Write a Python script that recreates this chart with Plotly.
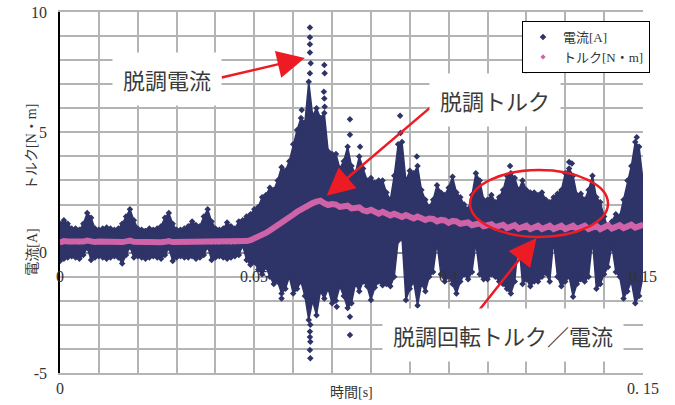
import plotly.graph_objects as go

# ---------------- data ----------------
time_step = 0.001  # s, sample spacing of the envelope readings

# upper extreme of the current cloud at each time step [A]
current_hi = [
    1.2, 1.35, 1.2, 1.0, 1.0, 0.95, 1.2, 1.65, 1.45, 1.0,
    0.95, 1.0, 1.05, 1.0, 0.95, 1.0, 1.2, 1.5, 1.8, 1.35,
    1.0, 0.95, 0.9, 1.0, 0.95, 1.0, 1.1, 1.45, 1.65, 1.2,
    0.95, 0.95, 1.0, 1.1, 1.3, 1.15, 1.1, 1.5, 1.8, 1.3,
    1.0, 0.95, 1.0, 1.25, 1.1, 1.0, 1.3, 1.35, 1.5, 1.6,
    1.8, 1.9, 2.3, 2.4, 2.7, 2.6, 3.0, 3.55, 3.4, 3.8,
    4.5, 5.1, 5.6, 5.4, 7.1, 5.7, 6.0, 5.6, 5.8, 4.2,
    4.1, 4.1, 3.5, 3.8, 4.4, 3.6, 3.3, 4.0, 3.5, 3.0,
    3.1, 2.9, 3.0, 3.0, 2.5, 2.2, 3.2, 4.5, 4.6, 3.0,
    3.4, 3.3, 3.6, 2.6, 2.2, 1.9, 2.2, 2.8, 2.5, 2.4,
    2.7, 3.15, 2.5, 2.3, 2.0, 1.8, 2.4, 3.3, 3.0, 2.2,
    2.2, 2.4, 2.1, 2.3, 2.6, 3.2, 3.3, 3.1, 2.6, 3.0,
    2.6, 2.5, 2.5, 2.4, 2.5, 2.2, 2.1, 2.3, 2.45, 2.6,
    3.3, 3.5, 3.2, 2.4, 2.45, 2.2, 2.6, 3.2, 2.3, 2.1,
    1.5, 1.0, 1.3, 1.6, 1.5, 2.2, 3.0, 3.6, 4.6, 4.4,
    3.0,
]

# lower extreme of the current cloud at each time step [A]
current_lo = [
    -0.35, -0.25, -0.2, -0.15, -0.2, -0.25, -0.1, 0.2, -0.3, -0.2,
    -0.15, -0.2, -0.25, -0.2, -0.15, -0.2, -0.45, -0.1, 0.25, -0.2,
    -0.15, -0.2, -0.25, -0.2, -0.15, -0.2, -0.25, -0.1, 0.2, -0.35,
    -0.2, -0.15, -0.2, -0.2, -0.15, -0.25, -0.2, -0.1, 0.25, -0.3,
    -0.2, -0.15, -0.2, -0.25, -0.2, -0.15, -0.1, 0.3, -0.3, -0.5,
    -0.4, -0.7, -0.9, -0.6, -1.0, -1.3, -1.2, -1.7, -1.5, -1.0,
    -1.7, -1.5, -1.2, -1.8, -2.8, -2.0, -2.6, -1.6, -1.9, -1.5,
    -2.1, -2.0, -1.4, -1.8, -2.3, -2.1, -1.3, -1.6, -1.2, -1.4,
    -1.97, -1.45, -1.2, -1.35, -1.3, -1.4, -1.0, 0.5, 0.6, -1.97,
    -1.5, -1.2, -2.2, -1.3, -1.6, -1.0, -0.8, 0.4, -0.9, -1.2,
    -1.0, -1.3, -1.7, -1.2, -0.9, -1.1, -0.8, 0.4, -0.9, -1.1,
    -1.1, -0.9, -1.0, -1.2, -1.3, -1.5, -1.7, -1.2, 0.5, -1.3,
    -1.1, -1.4, -1.2, -1.2, -1.0, -0.85, -1.2, 0.5, -1.0, -1.4,
    -1.2, -1.0, -1.83, -1.3, -1.1, -1.2, -1.0, 0.5, -1.5, -1.3,
    -0.9, -0.6, 0.3, -0.8, -1.0, -1.9, -1.6, -1.2, -2.1, -1.8,
    -1.0,
]

# isolated current dots of the spikes [s], [A]
outlier_t = [0.0622, 0.0643, 0.0643, 0.0643, 0.0643, 0.0645, 0.0643, 0.0643,
             0.0644, 0.0643, 0.0644, 0.0643, 0.0644, 0.0680, 0.0681, 0.0679,
             0.0680, 0.0681, 0.0746, 0.0746, 0.0772, 0.0875, 0.0876, 0.0918,
             0.1158, 0.1310, 0.1317, 0.1484, 0.0712, 0.0746, 0.0746, 0.0922,
             0.0570]
outlier_v = [5.93, 9.36, 8.95, 8.66, 8.32, 7.87, 7.45, -3.28,
             -3.7, -4.04, -4.39, -3.5, -3.0, 7.8, 7.45, 6.69,
             6.41, 6.06, 5.54, 4.9, 4.4, 5.69, 4.97, 4.0,
             3.6, 3.77, 3.7, 4.8, -2.25, -2.66, -3.42, -2.5,
             -1.9]

# torque [N·m] at each time step
torque = [
    0.42, 0.48, 0.46, 0.45, 0.47, 0.44, 0.46, 0.50, 0.45, 0.44,
    0.46, 0.45, 0.47, 0.44, 0.45, 0.46, 0.44, 0.47, 0.50, 0.45,
    0.44, 0.45, 0.46, 0.44, 0.45, 0.44, 0.43, 0.45, 0.48, 0.44,
    0.44, 0.45, 0.44, 0.43, 0.44, 0.45, 0.44, 0.46, 0.48, 0.44,
    0.44, 0.43, 0.45, 0.44, 0.43, 0.44, 0.45, 0.46, 0.48, 0.52,
    0.58, 0.66, 0.74, 0.82, 0.92, 1.02, 1.12, 1.25, 1.36, 1.48,
    1.58, 1.70, 1.80, 1.90, 1.98, 2.06, 2.12, 2.16, 2.05, 1.98,
    2.02, 2.00, 1.90, 1.94, 1.95, 1.84, 1.86, 1.88, 1.76, 1.72,
    1.78, 1.68, 1.62, 1.70, 1.62, 1.55, 1.62, 1.56, 1.48, 1.56,
    1.50, 1.42, 1.50, 1.46, 1.36, 1.42, 1.40, 1.30, 1.36, 1.34,
    1.24, 1.32, 1.30, 1.20, 1.26, 1.26, 1.14, 1.20, 1.22, 1.10,
    1.16, 1.18, 1.06, 1.12, 1.16, 1.02, 1.08, 1.14, 1.00, 1.06,
    1.12, 0.98, 1.04, 1.12, 0.98, 1.02, 1.12, 0.98, 1.02, 1.12,
    0.98, 1.02, 1.12, 0.98, 1.02, 1.12, 0.98, 1.02, 1.12, 0.98,
    1.04, 1.14, 1.00, 1.04, 1.14, 1.02, 1.06, 1.16, 1.04, 1.08,
    1.16,
]

x_tick_vals = [round(i * 0.01, 2) for i in range(16)]
x_tick_text = ["0"] + [""] * 14 + ["0. 15"]
y_tick_vals = list(range(-5, 11))
y_tick_text = ["-5", "", "", "", "", "0", "", "", "", "", "5", "", "", "", "", "10"]
axis_cross_labels = ["0", "0.05", "0.1", "0.15"]
axis_cross_vals = [0, 0.05, 0.1, 0.15]

# ---------------- build ----------------
NAVY = "#2E3368"
PINK = "#CF63A8"
RED = "#ED1C24"
SERIF = "'Liberation Serif', 'DejaVu Serif', serif"
MIXED = "'Liberation Serif', 'Noto Sans CJK JP', serif"
JP = "'Noto Sans CJK JP', sans-serif"
TXT = "#333333"

times = [round(k * time_step, 4) for k in range(len(current_hi))]

fig = go.Figure()
# dense core of the current cloud: area between the lower and upper extremes
fig.add_trace(go.Scatter(x=times + times[::-1], y=current_hi + current_lo[::-1],
                         mode="lines", fill="toself", fillcolor=NAVY,
                         line=dict(color=NAVY, width=1.5),
                         showlegend=False, hoverinfo="skip"))
# current sample dots (edges of the cloud and isolated spike points)
fig.add_trace(go.Scatter(x=times + times + outlier_t, y=current_hi + current_lo + outlier_v,
                         mode="markers", name="電流[A]",
                         marker=dict(color=NAVY, size=5, symbol="diamond")))
fig.add_trace(go.Scatter(x=times, y=torque, mode="lines", line=dict(color=PINK, width=6),
                         showlegend=False, hoverinfo="skip"))
fig.add_trace(go.Scatter(x=times, y=torque, mode="markers", name="トルク[N・m]",
                         marker=dict(color=PINK, size=4, symbol="diamond")))

annotations = []
for (tx, ty, ax, ay) in [(0.0630, 8.09, 0.0412, 7.26),
                         (0.0686, 2.37, 0.0957, 6.09),
                         (0.1226, 0.61, 0.1065, -2.66)]:
    annotations.append(dict(x=tx, y=ty, ax=ax, ay=ay, xref="x", yref="y", axref="x", ayref="y",
                            showarrow=True, arrowhead=2, arrowsize=2.2, arrowwidth=2.5,
                            arrowcolor=RED, text=""))
for (txt, tx, ty) in [("脱調電流", 0.0275, 7.2),
                      ("脱調トルク", 0.1119, 6.34),
                      ("脱調回転トルク／電流", 0.114, -3.42)]:
    annotations.append(dict(x=tx, y=ty, xref="x", yref="y", text=txt, showarrow=False,
                            font=dict(family=JP, size=22, color="#3a3a3a"),
                            bgcolor="white", borderpad=10))
for lab, v in zip(axis_cross_labels, axis_cross_vals):
    annotations.append(dict(x=v, y=0, xref="x", yref="y", text=lab, showarrow=False,
                            yshift=-24, font=dict(family=SERIF, size=16, color=TXT)))
annotations.append(dict(x=-0.065, y=0.625, xref="paper", yref="paper", text="トルク[N・m]",
                        textangle=-90, showarrow=False,
                        font=dict(family=MIXED, size=14, color=TXT)))
annotations.append(dict(x=-0.065, y=0.335, xref="paper", yref="paper", text="電流[A]",
                        textangle=-90, showarrow=False,
                        font=dict(family=MIXED, size=14, color=TXT)))
annotations.append(dict(x=0.5, y=-0.055, xref="paper", yref="paper", text="時間[s]",
                        showarrow=False, yanchor="middle",
                        font=dict(family=MIXED, size=14, color=TXT)))

fig.update_layout(
    width=675, height=405,
    margin=dict(l=60, r=32, t=12, b=32, autoexpand=False),
    paper_bgcolor="white", plot_bgcolor="white",
    font=dict(family=SERIF, color=TXT),
    showlegend=True,
    legend=dict(x=0.7925, y=0.975, xanchor="left", yanchor="top",
                bgcolor="white", bordercolor="black", borderwidth=1,
                font=dict(family=MIXED, size=13, color=TXT),
                itemwidth=30, tracegroupgap=0),
    annotations=annotations,
    shapes=[dict(type="circle", xref="x", yref="y", x0=0.1055, x1=0.141, y0=0.65, y1=3.43,
                 line=dict(color=RED, width=2.5))],
)
fig.update_xaxes(range=[0, 0.15], tickmode="array", tickvals=x_tick_vals, ticktext=x_tick_text,
                 showgrid=True, gridcolor="#b4b4b4", gridwidth=1.5, zeroline=False,
                 showline=True, linecolor="#b4b4b4", linewidth=1.5, mirror=True,
                 ticks="", automargin=False,
                 tickfont=dict(family=SERIF, size=16, color=TXT))
fig.update_yaxes(range=[-5, 10], tickmode="array", tickvals=y_tick_vals, ticktext=y_tick_text,
                 showgrid=True, gridcolor="#b4b4b4", gridwidth=1.5,
                 zeroline=True, zerolinecolor="#8c8c8c", zerolinewidth=1.5,
                 showline=True, linecolor="black", linewidth=1.5,
                 ticks="", ticklabelstandoff=8, automargin=False,
                 tickfont=dict(family=SERIF, size=16, color=TXT))

fig.write_html(
    "out.html",
    config={"displayModeBar": False},
    post_script="document.body.style.margin='0';document.body.style.overflow='hidden';",
)
